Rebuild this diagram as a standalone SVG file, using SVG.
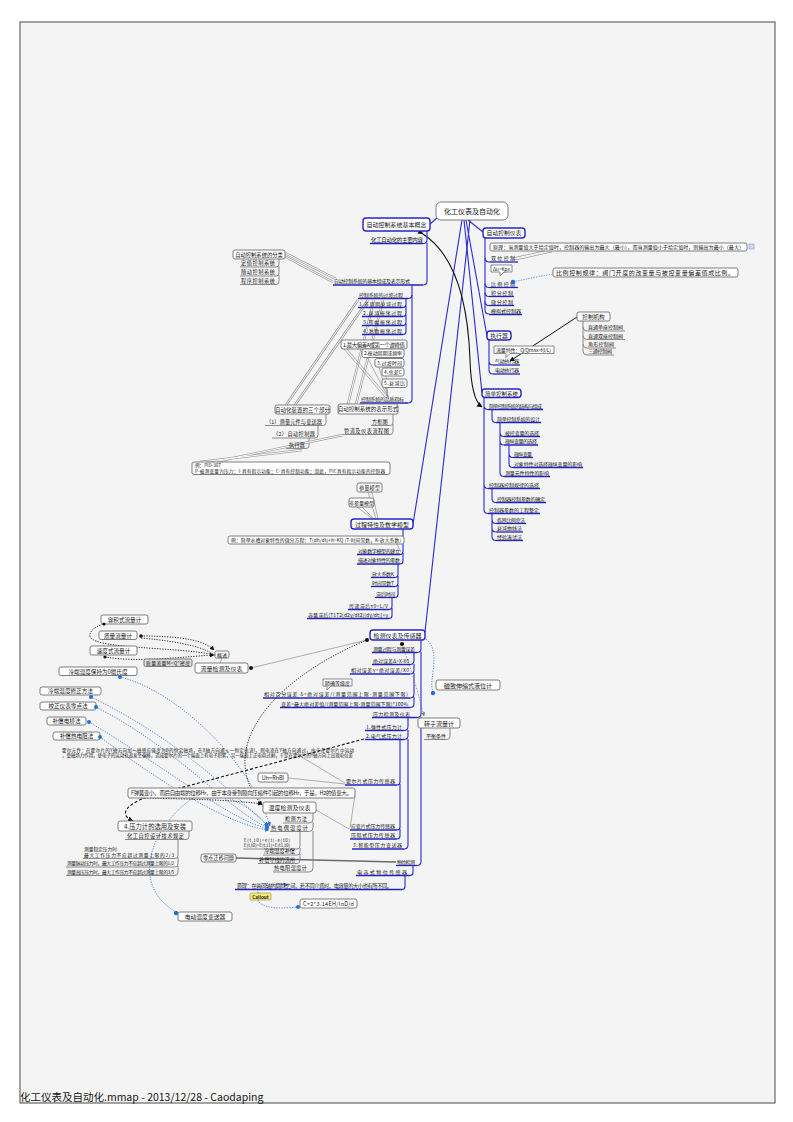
<svg xmlns="http://www.w3.org/2000/svg" width="793" height="1122" viewBox="0 0 793 1122">
<style>
.t{font-family:"Noto Sans CJK SC","Liberation Sans",sans-serif;fill:#161616}
.bx{fill:#fff;stroke:#6f6f6f;stroke-width:0.9}
.bb{fill:#fff;stroke:#2424c8;stroke-width:1.4}
.gf{fill:#dcdcdc;stroke:#6f6f6f;stroke-width:0.9}
.u{fill:none;stroke:#2323c4;stroke-width:1.3}
.ug{fill:none;stroke:#8a8a8a;stroke-width:1}
.br{fill:none;stroke:#2a2ad0;stroke-width:1.1}
.bg{fill:none;stroke:#8a8a8a;stroke-width:1}
.rl{fill:none;stroke:#8f8f8f;stroke-width:0.7}
.d1{fill:none;stroke:#9a9a9a;stroke-width:2.4}
.d2{fill:none;stroke:#fff;stroke-width:1}
.db{fill:none;stroke:#3a78d8;stroke-width:0.9;stroke-dasharray:1.2 1.4}
.dk{fill:none;stroke:#111;stroke-width:0.9;stroke-dasharray:1.2 1.4}
.dg{fill:none;stroke:#888;stroke-width:0.8;stroke-dasharray:1.5 1.5}
.dash{fill:none;stroke:#111;stroke-width:1.1;stroke-dasharray:3 2}
.dot{fill:#1f6fd6}
.kd{fill:#111}
</style>
<defs>
<marker id="ab" viewBox="0 0 10 10" refX="9" refY="5" markerWidth="5" markerHeight="5" orient="auto"><path d="M0,0 L10,5 L0,10 z" fill="#2a6fd6"/></marker>
<marker id="ak" viewBox="0 0 10 10" refX="9" refY="5" markerWidth="5" markerHeight="5" orient="auto"><path d="M0,0 L10,5 L0,10 z" fill="#111"/></marker>
<marker id="ag" viewBox="0 0 10 10" refX="9" refY="5" markerWidth="5" markerHeight="5" orient="auto"><path d="M0,0 L10,5 L0,10 z" fill="#777"/></marker>
</defs>
<rect x="0" y="0" width="793" height="1122" fill="#fff"/>
<rect x="20" y="22" width="755" height="1081" fill="#f4f4f4" stroke="#4a4a4a" stroke-width="1"/>
<text class="t" x="20" y="1101" font-size="10.5" font-family="Liberation Sans,Noto Sans CJK SC,sans-serif">化工仪表及自动化.mmap - 2013/12/28 - Caodaping</text>

<g id="connectors">
<!-- root branches -->
<path class="br" d="M437,218 L430,224"/>
<path class="br" d="M468,220 L483,232"/>
<path class="br" d="M466,220 L487,336"/>
<path class="br" d="M464,220 L482,393"/>
<path class="br" d="M462,220 L413,524"/>
<path class="br" d="M470,220 L425,632"/>
<path fill="none" stroke="#111" stroke-width="1.1" d="M423,234 C455,255 468,300 470,360 C471,390 476,403 482,407" marker-start="url(#ak)" marker-end="url(#ak)"/>
<!-- left A subtree -->
<path class="br" d="M423,243.5 q4,0 4,-4 V231"/>
<path class="br" d="M423,285 q4,0 4,-4 V243"/>
<path class="br" d="M408,298.5 q4,0 4,-4 V285"/>
<path class="br" d="M408,403 q4,0 4,-4 V295"/>
<path class="br" d="M403,307.5 q3,0 3,-3 V298.5"/>
<path class="br" d="M403,316.5 q3,0 3,-3 V306"/>
<path class="br" d="M403,325.5 q3,0 3,-3 V315"/>
<path class="br" d="M403,334.5 q3,0 3,-3 V324"/>
<path class="bg" d="M276,267 q3,0 3,-3 V259"/>
<path class="bg" d="M276,276 q3,0 3,-3 V266"/>
<path class="bg" d="M276,284.5 q3,0 3,-3 V275"/>
<path class="bg" d="M323,425.5 q3,0 3,-3 V414"/>
<path class="bg" d="M315,438 q3,0 3,-3 V425"/>
<path class="bg" d="M306,448.5 q3,0 3,-3 V437"/>
<path class="bg" d="M390,425.5 q3,0 3,-3 V414"/>
<path class="bg" d="M390,434.5 q3,0 3,-3 V424"/>
<!-- double relation lines -->
<path class="d1" d="M285,253 L336,279 M285,256.5 L333,282 M286,405 L358,300 M295,405 L368,300 M348,404 L374,300 M356,404 L383,300 M343,435 L214,462 M302,450 L200,462"/>
<path class="d2" d="M285,253 L336,279 M285,256.5 L333,282 M286,405 L358,300 M295,405 L368,300 M348,404 L374,300 M356,404 L383,300 M343,435 L214,462 M302,450 L200,462"/>
<path class="rl" d="M388,397 L347,349 M388,397 L367,357 M388,397 L379,367 M388,397 L386,376 M388,397 L386,387 M386,398 L344,349"/>
<!-- process model subtree -->
<path class="rl" d="M376,519 L368,492 M378,519 L372,492 M374,519 L362,507 M373,519 L357,507"/>
<path class="br" d="M400,554.5 q3,0 3,-3 V529"/>
<path class="br" d="M400,564 q3,0 3,-3 V553"/>
<path class="rl" d="M397,544 L401,552"/>
<path class="br" d="M395,577.5 q3,0 3,-3 V564"/>
<path class="br" d="M395,586.5 q3,0 3,-3 V576"/>
<path class="br" d="M395,597.5 q3,0 3,-3 V585"/>
<path class="br" d="M389,609.5 q3,0 3,-3 V597"/>
<path class="br" d="M389,618.5 q3,0 3,-3 V608"/>
<!-- detection subtree -->
<path class="br" d="M417,652.5 q4,0 4,-4 V640"/>
<path class="br" d="M417,717.5 q4,0 4,-4 V652"/>
<path class="br" d="M417,865.5 q4,0 4,-4 V717"/>
<path class="br" d="M410,664.5 q4,0 4,-4 V652.5"/>
<path class="br" d="M410,674 q4,0 4,-4 V664"/>
<path class="br" d="M410,698 q4,0 4,-4 V673"/>
<path class="br" d="M410,707.5 q4,0 4,-4 V697"/>
<path class="br" d="M404,730.5 q4,0 4,-4 V717.5"/>
<path class="br" d="M404,739.5 q4,0 4,-4 V730"/>
<path class="br" d="M404,849 q4,0 4,-4 V739"/>
<path class="br" d="M397,785 q3,0 3,-3 V739.5"/>
<path class="br" d="M397,830 q3,0 3,-3 V784"/>
<path class="br" d="M397,839 q3,0 3,-3 V829"/>
<path class="br" d="M410,875.5 q3,0 3,-3 V865.5"/>
<path class="br" d="M402,889.5 q3,0 3,-3 V875.5"/>
<path class="bg" d="M447,739.5 q3,0 3,-3 V728"/>
<path class="db" d="M426,639 C442,652 428,680 433,692"/>
<path class="dg" d="M402,645 C412,670 420,700 424,716" marker-end="url(#ag)"/>
<path class="rl" d="M251,668 L367,640"/>
<path class="rl" d="M220,663 L222,658"/>
<!-- flow dotted -->
<path class="dk" d="M215,655 C175,646 85,650 90,634 C92,628 98,626 103,624"/>
<path class="dk" d="M141,636 C180,636 204,640 214,650" marker-end="url(#ak)"/>
<path class="dk" d="M141,638 C185,642 205,648 214,655"/>
<path class="dk" d="M105,657 C140,663 190,656 214,655" marker-end="url(#ak)"/>
<!-- temperature blue dotted -->
<path class="db" d="M120,677 C175,690 250,760 270,826" marker-end="url(#ab)"/>
<path class="db" d="M91,697 C180,740 240,800 269,827" marker-end="url(#ab)"/>
<path class="db" d="M96,707 C180,750 230,812 269,828" marker-end="url(#ab)"/>
<path class="db" d="M89,722 C170,770 230,820 269,829" marker-end="url(#ab)"/>
<path class="db" d="M100,737 C160,782 230,826 269,830" marker-end="url(#ab)"/>
<path class="db" d="M176,912 C130,885 150,830 190,800 C215,785 250,805 268,826" marker-end="url(#ab)"/>
<!-- black relations -->
<path class="dk" d="M367,640 C270,680 215,750 262,805" marker-end="url(#ak)"/>
<path class="dk" d="M142,798 C190,799 235,800 262,804" marker-end="url(#ak)"/>
<path class="dash" d="M364,739 L150,796 C121,806 121,816 133,821" marker-end="url(#ak)"/>
<path class="rl" stroke-width="1" d="M300,756 L345,783 M288,778 L345,784 M316,810 L349,829 M355,795 L350,828"/>
<path fill="none" stroke="#6a6a6a" stroke-width="1.6" d="M236,858 L396,862"/>
<!-- temperature gray tree -->
<path class="bg" d="M309,823 q4,0 4,-4 V813"/>
<path class="bg" d="M309,831.5 q4,0 4,-4 V822"/>
<path class="bg" d="M309,872 q4,0 4,-4 V831"/>
<path class="bg" d="M297,849 q3,0 3,-3 V832"/>
<path class="bg" d="M297,855 q3,0 3,-3 V848"/>
<path class="bg" d="M297,863.5 q3,0 3,-3 V854"/>
<path class="bg" d="M186,839.5 q3,0 3,-3 V831"/>
<path class="bg" d="M175,858.5 q3,0 3,-3 V840"/>
<path class="bg" d="M175,867 q3,0 3,-3 V857"/>
<path class="bg" d="M175,875.5 q3,0 3,-3 V866"/>
<!-- callout -->
<path class="db" d="M258,893 C255,884 270,884 288,885" marker-end="url(#ab)"/>
<path class="db" d="M258,900 C262,910 285,908 298,907"/>
<!-- right: auto control instruments -->
<path class="br" d="M485,238 V310 q0,4 4,4"/>
<path class="br" d="M485,258 q0,4 4,4 M485,283.5 q0,4 4,4 M485,292.5 q0,4 4,4 M485,301.5 q0,4 4,4"/>
<path class="d1" d="M548,251 L512,259 M552,251 L516,259"/>
<path class="d2" d="M548,251 L512,259 M552,251 L516,259"/>
<path class="db" d="M513,282 Q535,277 553,274"/>
<path class="br" d="M489,340 V370 q0,4 4,4 M489,361 q0,4 4,4"/>
<path fill="none" stroke="#111" stroke-width="1" d="M577,317 L510,361" marker-end="url(#ak)"/>
<path class="bg" d="M583,321 V351 q0,4 4,4 M583,327 q0,4 4,4 M583,335.5 q0,4 4,4 M583,344 q0,4 4,4"/>
<!-- simple control system -->
<path class="br" d="M484,397.5 V509.5 q0,4 4,4 M484,405.5 q0,4 4,4 M484,484.5 q0,4 4,4"/>
<path class="br" d="M492,409.5 V418.5 q0,4 4,4"/>
<path class="br" d="M500,422.5 V472.5 q0,4 4,4 M500,432.5 q0,4 4,4 M500,441 q0,4 4,4"/>
<path class="br" d="M509,445 V463.5 q0,4 4,4 M509,453.5 q0,4 4,4"/>
<path class="br" d="M492,488.5 V498.5 q0,4 4,4"/>
<path class="br" d="M492,513.5 V536.5 q0,4 4,4 M492,519.5 q0,4 4,4 M492,528 q0,4 4,4"/>
</g>

<g id="root"><rect class="bx" x="436" y="202" width="72" height="18" rx="5"/><text class="t" x="472" y="214" font-size="7" text-anchor="middle">化工仪表及自动化</text></g>

<g id="n-basic"><rect class="bb" x="363" y="218" width="67" height="13" rx="3"/><text class="t" x="396.5" y="227" font-size="6" text-anchor="middle">自动控制系统基本概念</text></g>
<g id="n-main"><text class="t" x="371" y="241.5" font-size="5.5" textLength="52">化工自动化的主要内容</text><path class="u" d="M370,243.5 H423"/></g>
<g id="n-comp"><text class="t" x="334" y="283" font-size="5" textLength="76">自动控制系统的基本组成及表示形式</text><path class="u" d="M333,285 H423"/></g>
<g id="n-class"><rect class="bx" x="233" y="250" width="52" height="9" rx="2"/><text class="t" x="259" y="256.8" font-size="5.3" text-anchor="middle">自动控制系统的分类</text></g>
<g id="n-c1"><text class="t" x="241" y="265" font-size="5.2" textLength="34">定值控制系统</text><path class="ug" d="M240,267 H276"/></g>
<g id="n-c2"><text class="t" x="241" y="274" font-size="5.2" textLength="34">随动控制系统</text><path class="ug" d="M240,276 H276"/></g>
<g id="n-c3"><text class="t" x="241" y="282.5" font-size="5.2" textLength="34">程序控制系统</text><path class="ug" d="M240,284.5 H276"/></g>
<g id="n-trans"><text class="t" x="359" y="296.5" font-size="5" textLength="44">控制系统的过渡过程</text><path class="u" d="M358,298.5 H408"/></g>
<g id="n-p1"><text class="t" x="359" y="305.5" font-size="5" textLength="43">1.非周期衰减过程</text><path class="u" d="M358,307.5 H403"/></g>
<g id="n-p2"><text class="t" x="363" y="314.5" font-size="5" textLength="39">2.衰减振荡过程</text><path class="u" d="M362,316.5 H403"/></g>
<g id="n-p3"><text class="t" x="363" y="323.5" font-size="5" textLength="39">3.等幅振荡过程</text><path class="u" d="M362,325.5 H403"/></g>
<g id="n-p4"><text class="t" x="363" y="332.5" font-size="5" textLength="39">4.发散振荡过程</text><path class="u" d="M362,334.5 H403"/></g>
<g id="n-q1"><rect class="bx" x="341" y="340" width="66" height="9" rx="2"/><text class="t" x="343" y="346.7" font-size="5.4" textLength="62">1.最大偏差A或第一个波峰值</text></g>
<g id="n-q2"><rect class="bx" x="362" y="349" width="42" height="8.5" rx="2"/><text class="t" x="364" y="355.4" font-size="5" textLength="38">2.振动周期或频率</text></g>
<g id="n-q3"><rect class="bx" x="375" y="358.5" width="29" height="8.5" rx="2"/><text class="t" x="377" y="364.9" font-size="5" textLength="25">3.过渡时间</text></g>
<g id="n-q4"><rect class="bx" x="382" y="368" width="22" height="8" rx="2"/><text class="t" x="384" y="374.2" font-size="5" textLength="18">4.余差C</text></g>
<g id="n-q5"><rect class="bx" x="382" y="379" width="25" height="8.5" rx="2"/><text class="t" x="384" y="385.4" font-size="5" textLength="21">5.衰减比</text></g>
<g id="n-quality"><text class="t" x="361" y="401" font-size="5" textLength="43">控制系统的品质指标</text><path class="u" d="M360,403 H408"/></g>
<g id="n-three"><rect class="bx" x="275" y="405" width="55" height="9" rx="2"/><text class="t" x="302.5" y="411.8" font-size="5.5" text-anchor="middle">自动化装置的三个部分</text></g>
<g id="n-t1"><text class="t" x="266" y="423.5" font-size="5.2" textLength="56">（1）测量元件与变送器</text><path class="ug" d="M265,425.5 H323"/></g>
<g id="n-t2"><text class="t" x="273" y="436" font-size="5.2" textLength="42">（2）自动控制器</text><path class="ug" d="M272,438 H315"/></g>
<g id="n-t3"><text class="t" x="289" y="446.5" font-size="5.2">执行器</text><path class="ug" d="M286,448.5 H306"/></g>
<g id="n-repr"><rect class="bx" x="338" y="404" width="60" height="10" rx="2"/><text class="t" x="368" y="411.3" font-size="5.5" text-anchor="middle">自动控制系统的表示形式</text></g>
<g id="n-r1"><text class="t" x="372" y="423.5" font-size="5.2">方框图</text><path class="ug" d="M371,425.5 H390"/></g>
<g id="n-r2"><text class="t" x="344" y="432.5" font-size="5.2" textLength="45">管道及仪表流程图</text><path class="ug" d="M343,434.5 H390"/></g>
<g id="n-pid"><rect class="bx" x="192" y="462" width="198" height="12.5" rx="2"/><text class="t" x="195" y="467.3" font-size="4.6">例：PID-307</text><text class="t" x="195" y="472.8" font-size="4.6" textLength="190">P-被测变量为压力；I-具有指示功能；C-具有控制功能；因此，PIC具有指示功能的控制器</text></g>

<g id="n-model"><rect class="bb" x="351" y="519" width="62" height="10" rx="3"/><text class="t" x="382" y="526.5" font-size="6" text-anchor="middle">过程特性及数学模型</text></g>
<g id="n-m1"><rect class="bx" x="357" y="483" width="25" height="9" rx="2"/><text class="t" x="369.5" y="489.7" font-size="5.2" text-anchor="middle">参量模型</text></g>
<g id="n-m2"><rect class="bx" x="349" y="498" width="25" height="9" rx="2"/><text class="t" x="361.5" y="504.7" font-size="5" text-anchor="middle">非参量模型</text></g>
<g id="n-water"><rect class="bx" x="228" y="536" width="176" height="8" rx="2"/><text class="t" x="231" y="541.8" font-size="4.8" textLength="170">例：简单水槽对象特性的微分方程：T(dh/dt)+h=KQ (T-时间常数，K-放大系数)</text></g>
<g id="n-build"><text class="t" x="358" y="552.5" font-size="5" textLength="42">对象数学模型的建立</text><path class="u" d="M357,554.5 H400"/></g>
<g id="n-param"><text class="t" x="358" y="562" font-size="5" textLength="42">描述对象特性的参数</text><path class="u" d="M357,564 H400"/></g>
<g id="n-k"><text class="t" x="372" y="575.5" font-size="5" textLength="22">放大系数K</text><path class="u" d="M371,577.5 H395"/></g>
<g id="n-tc"><text class="t" x="372" y="584.5" font-size="5" textLength="22">时间常数T</text><path class="u" d="M371,586.5 H395"/></g>
<g id="n-lag"><text class="t" x="376" y="595.5" font-size="5" textLength="19">滞后时间</text><path class="u" d="M375,597.5 H395"/></g>
<g id="n-lag1"><text class="t" x="349" y="607.5" font-size="5" textLength="39">传递滞后τ0=L/V</text><path class="u" d="M348,609.5 H389"/></g>
<g id="n-lag2"><text class="t" x="308" y="616.5" font-size="5" textLength="80">容量滞后[T1T2(d2y/dt2)(dy/dt)]+y</text><path class="u" d="M307,618.5 H389"/></g>

<g id="n-detect"><rect class="bb" x="370" y="630" width="55" height="10" rx="3"/><text class="t" x="397.5" y="637.5" font-size="6" text-anchor="middle">检测仪表及传感器</text><circle class="kd" cx="367" cy="640" r="2"/><circle class="kd" cx="402" cy="644" r="2"/></g>
<g id="n-err"><text class="t" x="373" y="650.5" font-size="5" textLength="42">测量过程与测量误差</text><path class="u" d="M372,652.5 H417"/></g>
<g id="n-e1"><text class="t" x="373" y="662.5" font-size="5" textLength="36">绝对误差Δ=X-X0</text><path class="u" d="M372,664.5 H410"/></g>
<g id="n-e2"><text class="t" x="351" y="672" font-size="5" textLength="58">相对误差γ=绝对误差/X0</text><path class="u" d="M350,674 H410"/></g>
<g id="n-acc"><path d="M323,679 h29 v7 h-21 l-4,4 v-4 h-4 z" fill="#fff" stroke="#6f6f6f" stroke-width="0.8"/><text class="t" x="325" y="684.6" font-size="5" textLength="25">精确等级度</text></g>
<g id="n-e3"><text class="t" x="264" y="696" font-size="5" textLength="144">相对百分误差 δ=绝对误差/(测量范围上限-测量范围下限)</text><path class="u" d="M263,698 H410"/></g>
<g id="n-e4"><text class="t" x="281" y="705.5" font-size="5" textLength="127">变差=最大绝对差值/(测量范围上限-测量范围下限)*100%</text><path class="u" d="M280,707.5 H410"/></g>
<g id="n-press"><text class="t" x="373" y="715.5" font-size="5" textLength="37">压力检测及仪表</text><path class="u" d="M372,717.5 H417"/></g>
<g id="n-pr1"><text class="t" x="366" y="728.5" font-size="5" textLength="36">1.弹性式压力计</text><path class="u" d="M365,730.5 H404"/></g>
<g id="n-pr2"><text class="t" x="366" y="737.5" font-size="5" textLength="36">2.电气式压力计</text><path class="u" d="M365,739.5 H404"/></g>
<g id="n-hall"><text class="t" x="346" y="783" font-size="5" textLength="49">霍尔片式压力传感器</text><path class="u" d="M345,785 H397"/></g>
<g id="n-strain"><text class="t" x="351" y="828" font-size="5" textLength="44">应变片式压力传感器</text><path class="u" d="M350,830 H397"/></g>
<g id="n-piezo"><text class="t" x="351" y="837" font-size="5" textLength="44">压阻式压力传感器</text><path class="u" d="M350,839 H397"/></g>
<g id="n-pr3"><text class="t" x="353" y="847" font-size="5" textLength="49">3.智能型压力变送器</text><path class="u" d="M352,849 H404"/></g>
<g id="n-level"><text class="t" x="397" y="863.5" font-size="5" textLength="18">物位检测</text><path class="u" d="M396,865.5 H417"/></g>
<g id="n-cap"><text class="t" x="357" y="873.5" font-size="5" textLength="50">电容式物位传感器</text><path class="u" d="M356,875.5 H410"/></g>
<g id="n-prin"><text class="t" x="237" y="887.5" font-size="5.2" textLength="155">原理：在两同轴的圆筒之间，若不同介质时，电容量的大小也有所不同。</text><path class="u" d="M235,889.5 H402"/></g>
<g id="n-callout"><rect x="250" y="893" width="21" height="7" rx="1" fill="#f7ec7a" stroke="#8a8a4a" stroke-width="0.6"/><text class="t" x="260.5" y="898.5" font-size="4.6" font-weight="bold" text-anchor="middle">Callout</text></g>
<g id="n-cform"><rect class="bx" x="300" y="899" width="57" height="9" rx="2"/><text class="t" x="303" y="905.7" font-size="5.5" textLength="51">C=2*3.14EH/lnD/d</text><circle class="dot" cx="298" cy="907" r="2"/></g>
<g id="n-rotor"><rect class="bx" x="418" y="718" width="42" height="10" rx="2"/><text class="t" x="439" y="725.5" font-size="6" text-anchor="middle">转子流量计</text></g>
<g id="n-bal"><text class="t" x="426" y="737.5" font-size="5" textLength="20">平衡条件</text><path class="ug" d="M424,739.5 H447"/></g>
<g id="n-magn"><rect class="bx" x="436" y="680" width="64" height="10" rx="2"/><text class="t" x="468" y="687.5" font-size="6" text-anchor="middle">磁致伸缩式液位计</text><circle class="dot" cx="433" cy="693" r="2.2"/></g>

<g id="n-flow"><rect class="bx" x="195" y="663" width="53" height="10" rx="2"/><text class="t" x="221.5" y="670.5" font-size="6" text-anchor="middle">流量检测及仪表</text><circle class="kd" cx="251" cy="668" r="2"/></g>
<g id="n-over"><rect class="bx" x="215" y="651" width="14" height="7" rx="1.5"/><text class="t" x="222" y="656.6" font-size="5" text-anchor="middle">概述</text></g>
<g id="n-mass"><rect class="gf" x="144" y="659" width="48" height="7.5" rx="1.5"/><text class="t" x="146" y="664.8" font-size="4.8" textLength="44">质量流量M=Q*密度</text></g>
<g id="n-vol"><rect class="bx" x="101" y="615" width="47" height="9" rx="2"/><text class="t" x="124.5" y="622" font-size="5.6" text-anchor="middle">容积式流量计</text><circle class="kd" cx="104" cy="624" r="1.6"/></g>
<g id="n-massm"><rect class="bx" x="99" y="631" width="38" height="8.5" rx="2"/><text class="t" x="118" y="637.6" font-size="5.6" text-anchor="middle">质量流量计</text><circle class="kd" cx="141" cy="636" r="1.8"/></g>
<g id="n-speed"><rect class="bx" x="90" y="646" width="47" height="9" rx="2"/><text class="t" x="113.5" y="653" font-size="5.6" text-anchor="middle">速度式流量计</text><circle class="kd" cx="105" cy="657" r="1.6"/></g>
<g id="n-cold0"><rect class="bx" x="59" y="667" width="78" height="8.5" rx="2"/><text class="t" x="98" y="673.6" font-size="5.6" text-anchor="middle">冷端温度保持为0摄氏度</text><circle class="dot" cx="120" cy="677" r="2"/></g>
<g id="n-cold1"><rect class="bx" x="40" y="687" width="61" height="8" rx="2"/><text class="t" x="70.5" y="693.3" font-size="5.6" text-anchor="middle">冷端温度修正方法</text><circle class="dot" cx="91" cy="697" r="2"/></g>
<g id="n-cold2"><rect class="bx" x="40" y="702" width="56" height="8" rx="2"/><text class="t" x="68" y="708.3" font-size="5.6" text-anchor="middle">校正仪表零点法</text><circle class="dot" cx="96" cy="707" r="2"/></g>
<g id="n-cold3"><rect class="bx" x="47" y="717" width="39" height="8" rx="2"/><text class="t" x="66.5" y="723.3" font-size="5.6" text-anchor="middle">补偿电桥法</text><circle class="dot" cx="89" cy="722" r="2"/></g>
<g id="n-cold4"><rect class="bx" x="53" y="732" width="47" height="8" rx="2"/><text class="t" x="76.5" y="738.3" font-size="5.6" text-anchor="middle">补偿热电阻法</text><circle class="dot" cx="100" cy="737" r="2"/></g>

<g id="n-halltxt"><text class="t" x="62" y="751.5" font-size="4.5" textLength="292">霍尔元件：在霍尔片的Y轴方向加一磁感应强度为B的恒定磁场，在X轴方向通入一恒定电流I，则电流在Y轴方向通过，由于在霍尔片中运动</text><text class="t" x="62" y="756.5" font-size="4.5" textLength="291">，受磁场力作用，使电子的运动轨道发生偏移，造成霍尔片的一个端面上有电子积累，另一端面上正电荷过剩，于是在霍尔片的Y轴方向上出现电位差</text></g>
<g id="n-uh"><rect class="bx" x="258" y="773" width="30" height="9" rx="2"/><text class="t" x="273" y="779.8" font-size="5.5" text-anchor="middle">Uh=RhBI</text></g>
<g id="n-fbox"><rect class="bx" x="128" y="788" width="227" height="10" rx="2"/><text class="t" x="131" y="795.2" font-size="5.5" textLength="221">F弹簧变小，而后自由端的位移Hr，由于本身受到膜向压缩件引起的位移Hr，于是，H2的值变大。</text></g>

<g id="n-temp"><rect class="bx" x="263" y="802" width="53" height="11" rx="2"/><text class="t" x="289.5" y="810" font-size="6" text-anchor="middle">温度检测及仪表</text></g>
<g id="n-tm1"><text class="t" x="285" y="821" font-size="5.2" textLength="22">检测方法</text><path class="ug" d="M283,823 H309"/></g>
<g id="n-tm2"><text class="t" x="271" y="829.5" font-size="5.2" textLength="37">热电偶温度计</text><path class="ug" d="M270,831.5 H309"/></g>
<g id="n-ef"><text class="t" x="244" y="842" font-size="4.4" textLength="46">E(t,t0)=e(t)-e(t0)</text><text class="t" x="244" y="847" font-size="4.4" textLength="46">E(t,t0)=E(t,t1)+E(t1,t0)</text><path class="ug" d="M243,849 H297"/></g>
<g id="n-cc"><text class="t" x="264" y="853" font-size="5.2" textLength="31">冷端温度补偿</text><path class="ug" d="M263,855 H297"/></g>
<g id="n-wire"><text class="t" x="259" y="861.5" font-size="5.2" textLength="36">补偿导线的选用</text><path class="ug" d="M258,863.5 H297"/></g>
<g id="n-rtd"><text class="t" x="274" y="870" font-size="5.2" textLength="33">热电阻温度计</text><path class="ug" d="M273,872 H309"/></g>
<g id="n-zero"><rect class="bx" x="201" y="854" width="35" height="8" rx="2"/><text class="t" x="218.5" y="860.2" font-size="5.2" text-anchor="middle">零点迁移问题</text></g>
<g id="n-psel"><rect class="bx" x="118" y="821" width="74" height="10" rx="2"/><text class="t" x="155" y="828.5" font-size="6.3" text-anchor="middle">4.压力计的选用及安装</text></g>
<g id="n-spec"><text class="t" x="127" y="837.5" font-size="5.2" textLength="57">化工自控设计技术规定</text><path class="ug" d="M125,839.5 H186"/></g>
<g id="n-s1"><text class="t" x="84" y="851" font-size="4.7">测量稳定压力时</text><text class="t" x="84" y="856.5" font-size="4.7" textLength="90">最大工作压力不应超过测量上限的2/3</text><path class="ug" d="M83,858.5 H175"/></g>
<g id="n-s2"><text class="t" x="67" y="865" font-size="4.7" textLength="107">测量脉动压力时，最大工作压力不应超过测量上限的1/2</text><path class="ug" d="M66,867 H175"/></g>
<g id="n-s3"><text class="t" x="67" y="873.5" font-size="4.7" textLength="107">测量高压压力时，最大工作压力不应超过测量上限的3/5</text><path class="ug" d="M66,875.5 H175"/></g>
<g id="n-ttx"><rect class="bx" x="178" y="912" width="54" height="9" rx="2"/><text class="t" x="205" y="919" font-size="5.8" text-anchor="middle">电动温度变送器</text><circle class="dot" cx="176" cy="913" r="2.2"/></g>

<g id="n-inst"><rect class="bb" x="483" y="228" width="42" height="10" rx="3"/><text class="t" x="504" y="235.3" font-size="5.8" text-anchor="middle">自动控制仪表</text></g>
<g id="n-prin2"><rect class="bx" x="490" y="243" width="257" height="8" rx="2"/><text class="t" x="493" y="249" font-size="5" textLength="251">原理：当测量值大于给定值时，控制器的输出为最大（最小），而当测量值小于给定值时，则输出为最小（最大）</text><rect x="749" y="244" width="5" height="5" fill="#cfd8f0" stroke="#7a8ac0" stroke-width="0.5"/></g>
<g id="n-onoff"><text class="t" x="491" y="260" font-size="5" textLength="24">双位控制</text><path class="u" d="M489,262 H518"/></g>
<g id="n-kpe"><path d="M491,265 h21 v7 h-8 l-4,4 v-4 h-9 z" fill="#fff" stroke="#6f6f6f" stroke-width="0.8"/><text class="t" x="493" y="270.5" font-size="4.6" textLength="17">Δu=Kpe</text></g>
<g id="n-prop"><text class="t" x="491" y="285.5" font-size="5" textLength="24">比例控制</text><path class="u" d="M489,287.5 H518"/><circle class="dot" cx="513" cy="282" r="2.2"/></g>
<g id="n-proprule"><rect class="bx" x="553" y="268" width="185" height="9" rx="2"/><text class="t" x="556" y="274.8" font-size="6" textLength="178">比例控制规律：阀门开度的改变量与被控变量偏差值成比例。</text></g>
<g id="n-int"><text class="t" x="491" y="294.5" font-size="5" textLength="22">积分控制</text><path class="u" d="M489,296.5 H514"/></g>
<g id="n-der"><text class="t" x="491" y="303.5" font-size="5" textLength="22">微分控制</text><path class="u" d="M489,305.5 H514"/></g>
<g id="n-ana"><text class="t" x="491" y="312.5" font-size="5" textLength="30">模拟式控制器</text><path class="u" d="M489,314.5 H522"/></g>
<g id="n-act"><rect class="bb" x="487" y="331" width="24" height="9" rx="3"/><text class="t" x="499" y="337.8" font-size="5.8" text-anchor="middle">执行器</text></g>
<g id="n-fc"><path d="M494,346 h60 v7.5 h-44 l-4,4 v-4 h-12 z" fill="#fff" stroke="#6f6f6f" stroke-width="0.8"/><text class="t" x="496" y="351.7" font-size="5" textLength="55">流量特性：Q/Qmax=f(l/L)</text></g>
<g id="n-pn"><text class="t" x="495" y="363" font-size="5" textLength="24">气动执行器</text><path class="u" d="M493,365 H520"/></g>
<g id="n-el"><text class="t" x="495" y="372" font-size="5" textLength="24">电动执行器</text><path class="u" d="M493,374 H520"/></g>
<g id="n-valve"><rect class="bx" x="577" y="312" width="33" height="9" rx="2"/><text class="t" x="593.5" y="318.8" font-size="5.6" text-anchor="middle">控制机构</text></g>
<g id="n-v1"><text class="t" x="588" y="329" font-size="5" textLength="35">直通单座控制阀</text><path class="ug" d="M587,331 H625"/></g>
<g id="n-v2"><text class="t" x="588" y="337.5" font-size="5" textLength="35">直通双座控制阀</text><path class="ug" d="M587,339.5 H625"/></g>
<g id="n-v3"><text class="t" x="588" y="346" font-size="5" textLength="26">角形控制阀</text><path class="ug" d="M587,348 H616"/></g>
<g id="n-v4"><text class="t" x="588" y="353" font-size="5" textLength="24">三通控制阀</text><path class="ug" d="M587,355 H614"/></g>
<g id="n-simple"><rect class="bb" x="482" y="389" width="39" height="8.5" rx="3"/><text class="t" x="501.5" y="395.6" font-size="5.5" text-anchor="middle">简单控制系统</text></g>
<g id="n-s-struct"><text class="t" x="489" y="407.5" font-size="5" textLength="53">简单控制系统的结构与组成</text><path class="u" d="M488,409.5 H543"/></g>
<g id="n-s-design"><text class="t" x="497" y="420.5" font-size="5" textLength="43">简单控制系统的设计</text><path class="u" d="M496,422.5 H541"/></g>
<g id="n-s-cv"><text class="t" x="505" y="434.5" font-size="5" textLength="34">被控变量的选择</text><path class="u" d="M504,436.5 H540"/></g>
<g id="n-s-mv"><text class="t" x="505" y="443" font-size="5" textLength="32">操纵变量的选择</text><path class="u" d="M504,445 H538"/></g>
<g id="n-s-mv1"><text class="t" x="514" y="455.5" font-size="5" textLength="18">操纵变量</text><path class="u" d="M513,457.5 H533"/></g>
<g id="n-s-mv2"><text class="t" x="514" y="465.5" font-size="5" textLength="68">对象特性对选择操纵变量的影响</text><path class="u" d="M513,467.5 H583"/></g>
<g id="n-s-meas"><text class="t" x="505" y="474.5" font-size="5" textLength="44">测量元件特性的影响</text><path class="u" d="M504,476.5 H550"/></g>
<g id="n-s-law"><text class="t" x="489" y="486.5" font-size="5" textLength="50">控制器控制规律的选择</text><path class="u" d="M488,488.5 H540"/></g>
<g id="n-s-par"><text class="t" x="497" y="500.5" font-size="5" textLength="48">控制器控制参数的确定</text><path class="u" d="M496,502.5 H546"/></g>
<g id="n-s-tune"><text class="t" x="489" y="511.5" font-size="5" textLength="50">控制器参数的工程整定</text><path class="u" d="M488,513.5 H540"/></g>
<g id="n-s-t1"><text class="t" x="497" y="521.5" font-size="5" textLength="28">临界比例度法</text><path class="u" d="M496,523.5 H526"/></g>
<g id="n-s-t2"><text class="t" x="497" y="530" font-size="5" textLength="25">衰减曲线法</text><path class="u" d="M496,532 H523"/></g>
<g id="n-s-t3"><text class="t" x="497" y="538.5" font-size="5" textLength="25">经验凑试法</text><path class="u" d="M496,540.5 H523"/></g>
</svg>
